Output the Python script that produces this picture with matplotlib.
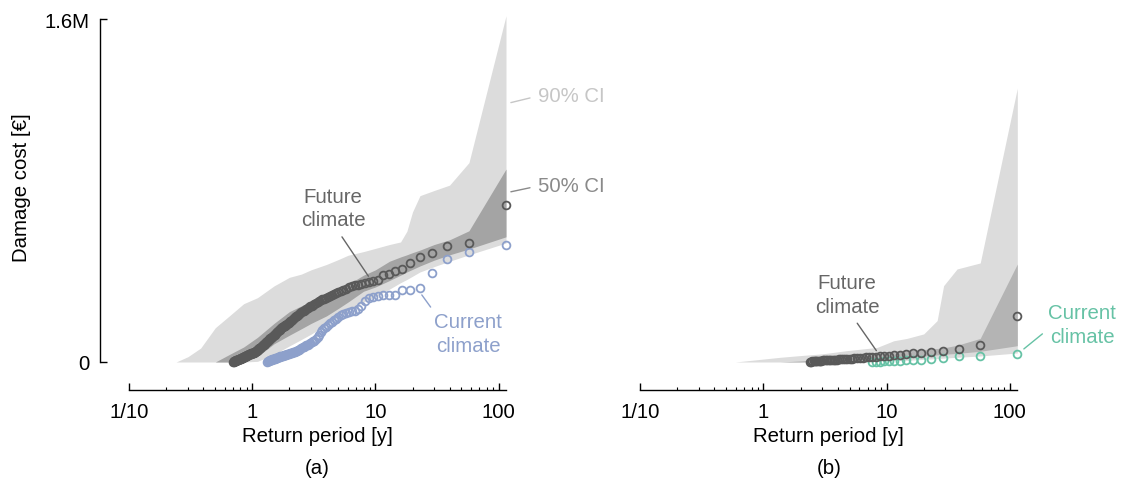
import numpy as np
import matplotlib
matplotlib.use("Agg")
import matplotlib.pyplot as plt
from matplotlib.ticker import FixedLocator, LogLocator, FuncFormatter, NullFormatter

plt.rcParams['font.family'] = ['Liberation Sans', 'DejaVu Sans']

# ---------------- data (damage values in thousand euro) ----------------
RECORD_YEARS = 115  # length of the simulated record; return period = record / rank

future_a = [732, 553, 539, 510, 491, 462, 434, 425, 412, 406,
            383, 376, 372, 368, 365, 361, 358, 353, 348, 341,
            338, 330, 326, 321, 317, 312, 308, 303, 300, 296,
            292, 289, 285, 281, 276, 272, 268, 262, 259, 255,
            251, 247, 243, 239, 236, 232, 228, 224, 220, 216,
            213, 209, 205, 201, 197, 193, 189, 184, 180, 176,
            174, 172, 170, 167, 164, 161, 157, 153, 150, 147,
            144, 141, 138, 135, 131, 128, 125, 121, 118, 116,
            113, 111, 108, 105, 103, 100, 97, 95, 92, 90,
            86, 84, 81, 79, 77, 75, 72, 70, 67, 65,
            63, 61, 59, 57, 55, 53, 51, 50, 48, 46,
            45, 44, 43, 42, 41, 41, 40, 39, 38, 38,
            37, 36, 35, 34, 33, 32, 31, 30, 29, 28,
            27, 26, 25, 24, 23, 22, 21, 20, 19, 19,
            18, 17, 16, 16, 15, 14, 13, 12, 12, 11,
            10, 10, 9, 8, 8, 7, 6, 6, 5, 4, 4, 3, 2, 2]

current_a = [544, 515, 480, 415, 345, 334, 334, 314, 314, 312,
             309, 305, 299, 283, 262, 245, 240, 236, 233, 229,
             225, 219, 210, 200, 195, 188, 180, 172, 165, 158,
             150, 138, 125, 115, 105, 100, 96, 92, 88, 83,
             80, 77, 74, 71, 68, 65, 62, 58, 55, 51,
             49, 48, 46, 45, 43, 42, 40, 38, 36, 35,
             34, 33, 32, 31, 30, 29, 28, 26, 24, 22,
             21, 20, 19, 18, 17, 16, 15, 13, 12, 11,
             10, 9, 8, 6, 5, 3, 1]

future_b = [213, 79, 61, 53, 45, 42, 40, 37, 34, 32,
            30, 28, 26, 25, 24, 23, 21, 20, 19, 18,
            17, 16, 16, 15, 14, 13, 13, 12, 11, 11,
            10, 10, 9, 9, 8, 8, 7, 7, 6, 6,
            5, 5, 4, 4, 3, 3, 2, 2]

current_b = [37, 29, 26, 17, 14, 11, 9, 7, 6, 5, 4, 3, 2, 2, 1]

# confidence bands (return period [y], thousand euro)
band_T_a = [0.24, 0.3, 0.38, 0.5, 0.65, 0.85, 1.1, 1.5, 2, 2.5, 3, 4, 5, 6, 8,
            10, 13, 16, 18, 20, 23, 30, 40, 57.5, 115]
up90_a = [0, 25, 65, 160, 215, 272, 300, 355, 395, 410, 430, 455, 478, 498, 515,
          530, 548, 560, 610, 700, 776, 800, 825, 930, 1615]
up50_a = [0, 0, 0, 0, 35, 70, 115, 180, 235, 262, 283, 318, 345, 362, 405,
          430, 470, 490, 500, 510, 522, 548, 570, 612, 900]
lo50_a = [0, 0, 0, 0, 0, 5, 25, 85, 125, 155, 180, 215, 250, 280, 330,
          350, 380, 405, 420, 432, 448, 475, 500, 527, 584]
lo90_a = [0, 0, 0, 0, 0, 0, 3, 35, 75, 105, 130, 175, 210, 240, 280,
          305, 340, 370, 385, 400, 420, 445, 470, 500, 555]

band_T_b = [0.59, 1.37, 2, 3, 4.76, 8.37, 11.4, 14.6, 20, 25.7, 29, 37.3, 57.5, 115]
up90_b = [0, 22, 30, 38, 53, 68, 99, 110, 131, 193, 356, 434, 462, 1277]
up50_b = [0, 0, 5, 12, 22, 35, 45, 52, 58, 63, 66, 78, 110, 457]
lo50_b = [0, 0, 0, 3, 8, 16, 20, 24, 28, 33, 36, 40, 50, 76]
lo90_b = [0, 0, 0, 0, 0, 3, 6, 8, 12, 16, 18, 22, 28, 42]

x_ticks = [0.1, 1, 10, 100]
x_tick_labels = ['1/10', '1', '10', '100']
y_ticks = [0, 1.6e6]
y_tick_labels = ['0', '1.6M']

# ---------------- styles ----------------
C_LIGHT = '#dcdcdc'
C_DARK_A = '#a4a4a4'
C_DARK_B = '#b4b4b4'
C_FUT = '#595959'
C_CUR_A = '#8da0cb'
C_CUR_B = '#66c2a5'
C_TXT_FUT = '#666666'
C_90 = '#c6c6c6'
C_50 = '#8a8a8a'
FS = 14.7
FS_ANN = 14.7

W, H = 1122, 489
fig = plt.figure(figsize=(W / 100, H / 100), dpi=100)

def px_axes(x0, x1, ytop, ybot):
    return [x0 / W, (H - ybot) / H, (x1 - x0) / W, (ybot - ytop) / H]

YMAX = 1.65e6
ax_a = fig.add_axes(px_axes(129.3, 506.0, 363 - 343 * YMAX / 1.6e6, 363))
ax_b = fig.add_axes(px_axes(640.3, 1017.3, 363 - 343 * YMAX / 1.6e6, 363))


def ranks_T(n):
    return RECORD_YEARS / np.arange(1, n + 1)


def draw(ax, T, up90, lo90, up50, lo50, dark, fut, cur, cur_color):
    k = 1e3
    ax.fill_between(T, np.array(lo90) * k, np.array(up90) * k, color=C_LIGHT, lw=0, zorder=1)
    ax.fill_between(T, np.array(lo50) * k, np.array(up50) * k, color=dark, lw=0, zorder=2)
    ax.plot(ranks_T(len(cur)), np.array(cur) * k, 'o', ms=5.6, mfc='none',
            mec=cur_color, mew=1.3, zorder=3, clip_on=False)
    ax.plot(ranks_T(len(fut)), np.array(fut) * k, 'o', ms=5.6, mfc='none',
            mec=C_FUT, mew=1.3, zorder=4, clip_on=False)

    ax.set_xscale('log')
    ax.set_xlim(0.1, RECORD_YEARS)
    ax.set_ylim(0, YMAX)
    ax.patch.set_alpha(0)
    for s in ['top', 'right']:
        ax.spines[s].set_visible(False)
    ax.spines['bottom'].set_position(('outward', 20))
    ax.spines['bottom'].set_linewidth(1.0)
    ax.xaxis.set_major_locator(FixedLocator(x_ticks))
    ax.xaxis.set_major_formatter(FuncFormatter(lambda v, p: x_tick_labels[x_ticks.index(v)] if v in x_ticks else ''))
    ax.xaxis.set_minor_locator(LogLocator(base=10, subs=np.arange(2, 10)))
    ax.xaxis.set_minor_formatter(NullFormatter())
    ax.tick_params(axis='x', which='major', direction='in', length=5, width=1.0,
                   labelsize=FS, pad=9)
    ax.tick_params(axis='x', which='minor', direction='in', length=2.5, width=0.8)
    ax.set_xlabel('Return period [y]', fontsize=FS)
    ax.xaxis.set_label_coords(0.5, -0.182)


draw(ax_a, band_T_a, up90_a, lo90_a, up50_a, lo50_a, C_DARK_A, future_a, current_a, C_CUR_A)
draw(ax_b, band_T_b, up90_b, lo90_b, up50_b, lo50_b, C_DARK_B, future_b, current_b, C_CUR_B)

# y axis only on the left panel
ax_a.spines['left'].set_position(('outward', 21))
ax_a.spines['left'].set_bounds(0, 1.6e6)
ax_a.spines['left'].set_linewidth(1.0)
ax_a.yaxis.set_major_locator(FixedLocator(y_ticks))
ax_a.yaxis.set_major_formatter(FuncFormatter(lambda v, p: y_tick_labels[y_ticks.index(v)] if v in y_ticks else ''))
ax_a.tick_params(axis='y', direction='in', length=5, width=1.0, labelsize=FS, pad=8)
ax_a.set_ylabel('Damage cost [€]', fontsize=FS)
ax_a.yaxis.set_label_coords(-0.262, 0.497)

ax_b.spines['left'].set_visible(False)
ax_b.set_yticks([])

ax_a.text(0.5, -0.299, '(a)', transform=ax_a.transAxes, ha='center', va='center', fontsize=FS)
ax_b.text(0.5, -0.299, '(b)', transform=ax_b.transAxes, ha='center', va='center', fontsize=FS)


def note(ax, text, xy, xytext, color, relpos, ha='center', shrinkA=3):
    ax.annotate(text, xy=xy, xytext=xytext, color=color, fontsize=FS_ANN,
                ha=ha, va='center', linespacing=1.32, annotation_clip=False,
                arrowprops=dict(arrowstyle='-', color=color, lw=1.0, shrinkA=shrinkA,
                                shrinkB=0, relpos=relpos), zorder=6)


note(ax_a, '90% CI', (126, 1.21e6), (210, 1.241e6), C_90, (0, 0.5), ha='left', shrinkA=4)
note(ax_a, '50% CI', (126, 0.794e6), (210, 0.821e6), C_50, (0, 0.5), ha='left', shrinkA=4)
note(ax_a, 'Future\nclimate', (8.77, 0.40e6), (4.53, 0.718e6), C_TXT_FUT, (0.56, 0), shrinkA=4)
note(ax_a, 'Current\nclimate', (23.8, 0.313e6), (56.7, 0.133e6), C_CUR_A, (0.0, 1.0), shrinkA=2)
note(ax_b, 'Future\nclimate', (8.25, 0.053e6), (4.76, 0.315e6), C_TXT_FUT, (0.58, 0), shrinkA=4)
note(ax_b, 'Current\nclimate', (130, 0.061e6), (388, 0.174e6), C_CUR_B, (0.0, 0.4), shrinkA=3)

fig.savefig('out.png', dpi=100)
